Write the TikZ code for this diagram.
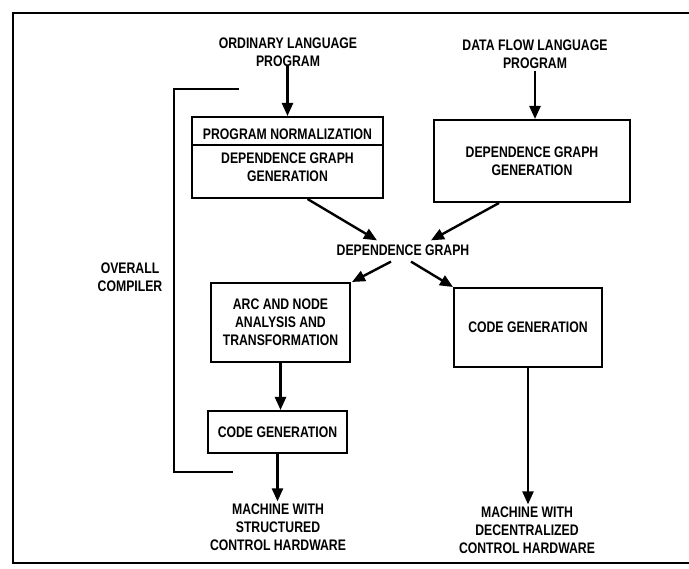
\documentclass[tikz,border=0pt]{standalone}
\usepackage{fontspec}
\setmainfont[FakeStretch=0.8]{Liberation Sans}
\usetikzlibrary{arrows.meta}
\begin{document}
\begin{tikzpicture}[x=1pt,y=-1pt,
  txt/.style={align=center,font=\fontsize{15.3}{18}\selectfont\bfseries,inner sep=2pt},
  box/.style={draw,line width=2pt,inner sep=0pt},
  arr/.style={line width=2.4pt,-{Triangle[length=13pt,width=11pt]}},
  heavy/.style={line width=2.2pt}]
\useasboundingbox (0,0) rectangle (689,569);
\clip (0,0) rectangle (689,569);
% frame
\draw[heavy] (689,13) -- (13,13) -- (13,563) -- (689,563);
% bracket
\draw[line width=2.6pt] (239,89) -- (174,89) -- (174,472) -- (233,472);
\node[txt] (oc) at (130,277) {OVERALL\\COMPILER};
% inputs
\node[txt] (ol) at (288,52) {ORDINARY LANGUAGE\\PROGRAM};
\node[txt] (dl) at (535,54) {DATA FLOW LANGUAGE\\PROGRAM};
% box 1
\node[box,minimum width=191pt,minimum height=81pt] (b1) at (287.5,157.5) {};
\node[txt] (b1a) at (287.5,134.5) {PROGRAM NORMALIZATION};
\node[txt] (b1b) at (287.5,167) {DEPENDENCE GRAPH\\GENERATION};
\draw[line width=1.3pt] (b1.west |- 0,145) -- (b1.east |- 0,145);
% box 2
\node[box,minimum width=196pt,minimum height=82pt,txt] (b2) at (532,161) {DEPENDENCE GRAPH\\GENERATION};
% dependence graph
\node[txt,inner sep=4pt] (dg) at (403,250) {DEPENDENCE GRAPH};
% box 3,4,5
\node[box,minimum width=139pt,minimum height=79pt,txt] (b3) at (280.5,322.5) {ARC AND NODE\\ANALYSIS AND\\TRANSFORMATION};
\node[box,minimum width=148pt,minimum height=79pt,txt] (b4) at (528,327.5) {CODE GENERATION};
\node[box,minimum width=139pt,minimum height=42pt,txt] (b5) at (277.5,432) {CODE GENERATION};
% outputs
\node[txt] (ml) at (278,527) {MACHINE WITH\\STRUCTURED\\CONTROL HARDWARE};
\node[txt] (mr) at (527,530) {MACHINE WITH\\DECENTRALIZED\\CONTROL HARDWARE};
% connectors
\draw[arr] (ol.south -| b1.north) ++(0,-3) -- (b1.north);
\draw[arr] (dl.south) -- (dl.south |- b2.north);
\draw[arr] ([xshift=20pt]b1.south) -- ([xshift=-26pt]dg.north);
\draw[arr] ([xshift=-33pt]b2.south) -- ([xshift=28pt]dg.north);
\draw[arr] ([xshift=-12pt,yshift=-2pt]dg.south) -- ([xshift=1pt]b3.north east);
\draw[arr] ([xshift=8pt,yshift=-2pt]dg.south) -- (b4.north west);
\draw[arr] (b3.south) -- (b3.south |- b5.north);
\draw[arr] (b5.south) -- (b5.south |- ml.north);
\draw[arr] (b4.south) -- (b4.south |- mr.north);
\end{tikzpicture}
\end{document}
